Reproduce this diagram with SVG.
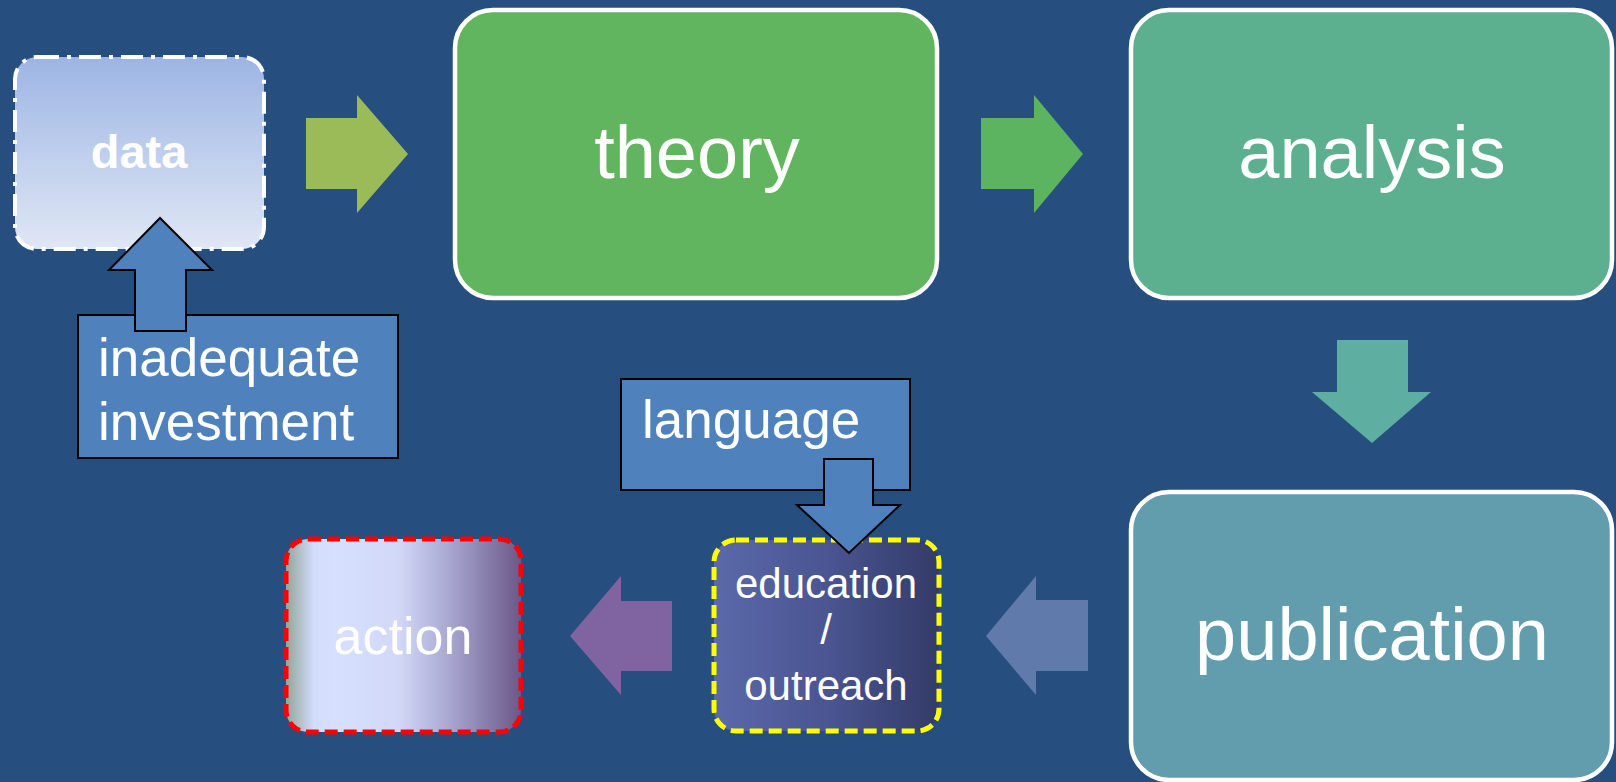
<svg xmlns="http://www.w3.org/2000/svg" width="1616" height="782" viewBox="0 0 1616 782">
  <defs>
    <linearGradient id="gData" x1="0" y1="0" x2="0" y2="1">
      <stop offset="0" stop-color="#9db5e4"/>
      <stop offset="1" stop-color="#e0e7f5"/>
    </linearGradient>
    <linearGradient id="gEdu" x1="0" y1="0" x2="1" y2="0">
      <stop offset="0" stop-color="#5b69a9"/>
      <stop offset="0.5" stop-color="#4a5592"/>
      <stop offset="1" stop-color="#333b68"/>
    </linearGradient>
    <linearGradient id="gAction" x1="0" y1="0" x2="1" y2="0">
      <stop offset="0" stop-color="#93a598"/>
      <stop offset="0.12" stop-color="#d2ddfc"/>
      <stop offset="0.22" stop-color="#d6e0fd"/>
      <stop offset="0.48" stop-color="#d2d8f8"/>
      <stop offset="0.7" stop-color="#a7a6d0"/>
      <stop offset="1" stop-color="#6b5888"/>
    </linearGradient>
  </defs>
  <style>
    .lbl { font-family: "Liberation Sans", Arial, sans-serif; fill: #ffffff; }
    .big { font-size: 74px; text-anchor: middle; }
    .mid { font-size: 53px; }
    .stage { stroke: #ffffff; stroke-width: 4.5; }
    .callout { fill: #4f81bd; stroke: #000000; stroke-width: 2; }
    .dashed { stroke-width: 5; stroke-dasharray: 13 6; }
  </style>

  <rect width="1616" height="782" fill="#264f80"/>

  <!-- connectors -->
  <g id="connectors">
    <polygon points="306,118 357,118 357,95 408,154 357,213 357,189 306,189" fill="#9bbb59"/>
    <polygon points="981,118 1034,118 1034,95 1083,154 1034,213 1034,189 981,189" fill="#5cb461"/>
    <polygon points="1337,340 1408,340 1408,392 1431,392 1372,443 1312,392 1337,392" fill="#5eaea2"/>
    <polygon points="1088,600 1036,600 1036,576 986,636 1036,695 1036,671 1088,671" fill="#5f7aab"/>
    <polygon points="672,601 621,601 621,576 570,636 621,695 621,671 672,671" fill="#8064a2"/>
  </g>

  <!-- data -->
  <g id="node-data">
    <rect x="15" y="57" width="249" height="192" rx="22" fill="url(#gData)" stroke="#ffffff" stroke-width="4" stroke-dasharray="22 8 4 8"/>
    <text class="lbl" x="139" y="168" font-size="47" font-weight="bold" text-anchor="middle">data</text>
  </g>

  <!-- theory -->
  <g id="node-theory">
    <rect class="stage" x="455" y="10" width="482" height="288" rx="38" fill="#61b55e"/>
    <text class="lbl big" x="697" y="178">theory</text>
  </g>

  <!-- analysis -->
  <g id="node-analysis">
    <rect class="stage" x="1131" y="10" width="481" height="288" rx="38" fill="#5db08f"/>
    <text class="lbl big" x="1372" y="178">analysis</text>
  </g>

  <!-- publication -->
  <g id="node-publication">
    <rect class="stage" x="1131" y="492" width="481" height="288" rx="38" fill="#619dac"/>
    <text class="lbl big" x="1372" y="660">publication</text>
  </g>

  <!-- inadequate investment -->
  <g id="node-investment">
    <rect class="callout" x="78" y="315" width="320" height="143"/>
    <polygon class="callout" points="135,331 135,270 109,270 160,218 212,270 186,270 186,331"/>
    <text class="lbl mid" x="98" y="376">inadequate</text>
    <text class="lbl mid" x="98" y="440">investment</text>
  </g>

  <!-- language -->
  <g id="node-language">
    <rect class="callout" x="621" y="379" width="289" height="111"/>
    <text class="lbl mid" x="642" y="438">language</text>
  </g>

  <!-- education / outreach -->
  <g id="node-education">
    <rect class="dashed" x="714" y="540" width="225" height="191" rx="22" fill="url(#gEdu)" stroke="#ffff00"/>
    <polygon class="callout" points="824,459 873,459 873,505 900,505 849,553 797,505 824,505"/>
    <g class="lbl" font-size="42" text-anchor="middle">
      <text x="826" y="598">education</text>
      <text x="826" y="644">/</text>
      <text x="826" y="700">outreach</text>
    </g>
  </g>

  <!-- action -->
  <g id="node-action">
    <rect class="dashed" x="286" y="539" width="235" height="193" rx="22" fill="url(#gAction)" stroke="#ff0000"/>
    <text class="lbl" x="403" y="654" font-size="52" text-anchor="middle">action</text>
  </g>
</svg>
